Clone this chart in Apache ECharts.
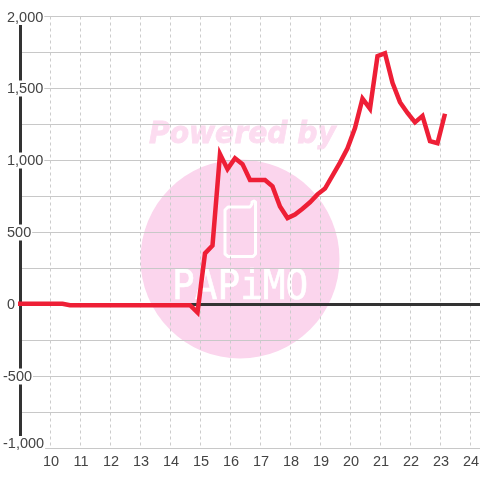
<!DOCTYPE html>
<html>
<head>
<meta charset="utf-8">
<style>html,body{margin:0;padding:0;background:#fff}#c{width:480px;height:480px}</style>
<script src="https://cdn.jsdelivr.net/npm/echarts@6/dist/echarts.min.js"></script>
</head>
<body>
<div id="c"></div>
<script>
var xValues = [8.9,9.15,9.4,9.65,9.9,10.15,10.4,10.65,10.9,11.15,11.4,11.65,11.9,12.15,12.4,12.65,12.9,13.15,13.4,13.65,13.9,14.15,14.4,14.65,14.9,15.15,15.4,15.65,15.9,16.15,16.4,16.65,16.9,17.15,17.4,17.65,17.9,18.15,18.4,18.65,18.9,19.15,19.4,19.65,19.9,20.15,20.4,20.65,20.9,21.15,21.4,21.65,21.9,22.15,22.4,22.65,22.9,23.15];
var yValues = [5,5,5,5,5,5,5,-5,-5,-5,-5,-5,-5,-5,-5,-5,-5,-5,-5,-5,-5,-5,-5,-5,-55,355,410,1045,940,1015,975,865,865,865,820,680,600,625,665,710,765,805,895,985,1085,1225,1430,1360,1725,1745,1540,1405,1330,1265,1310,1135,1120,1325];
var baselineX = [9, 24.317];
var baselineY = [0, 0];
var yMin = -1000, yMax = 2000, yStep = 250;
var xMin = 9, xMax = 24.317;
var poweredText = 'Powered by';
var brandText = 'PAPiMO';

var chart = echarts.init(document.getElementById('c'), null, {renderer:'canvas'});
function fmt(v){
  if (Math.abs(v) % 500 !== 0) return '';
  var s = v.toLocaleString('en-US');
  if (v === 2000) return '{top|' + s + '}';
  if (v === -1000) return '{bot|' + s + '}';
  if (v < 0) return '{neg|' + s + '}';
  return '{pos|' + s + '}';
}
var base = {fontFamily:'Liberation Sans', fontSize:14.5, color:'#444', backgroundColor:'#fff', lineHeight:12};
function st(p){ return Object.assign({}, base, {padding:p}); }
chart.setOption({
  animation:false,
  backgroundColor:'#fff',
  grid:{left:20.5, right:0, top:16.5, bottom:31.5, containLabel:false, outerBoundsMode:'none'},
  graphic:{elements:[
    {type:'circle', z:-10, silent:true, shape:{cx:240,cy:259,r:99.5}, style:{fill:'#fbd5ed'}},
    {type:'text', z:-9, silent:true, x:149, y:120, scaleX:0.94, style:{text:poweredText, font:'italic bold 30px "DejaVu Sans"', fill:'#fcdcf0', stroke:'#fcdcf0', lineWidth:0.8}},
    {type:'polygon', z:-9, silent:true, shape:{points:[[228,207],[250,207],[252,204],[252,202],[254,201],[255.5,202],[255.5,254],[253,256.5],[228,256.5],[225,254],[225,210]]}, style:{fill:'none', stroke:'#fff', lineWidth:3, lineJoin:'round'}},
    {type:'text', z:-9, silent:true, x:172, y:268, scaleX:0.92, style:{text:brandText, font:'41px "DejaVu Sans Mono"', fill:'#fff', stroke:'#fff', lineWidth:0.6}}
  ]},
  xAxis:{
    type:'value', min:xMin, max:xMax, interval:1, position:'bottom',
    axisLine:{show:false}, axisTick:{show:false},
    axisLabel:{show:true, margin:6, showMinLabel:false, showMaxLabel:false, hideOverlap:false,
      fontFamily:'Liberation Sans', fontSize:14.5, color:'#444', padding:[0,0,0,1]},
    splitLine:{show:true, lineStyle:{color:'#ccc', width:1, type:[3,3]}}
  },
  yAxis:{
    type:'value', min:yMin, max:yMax, interval:yStep,
    axisLine:{show:true, onZero:false, lineStyle:{color:'#333', width:3}},
    axisTick:{show:false},
    axisLabel:{show:true, margin:17.5, align:'left', hideOverlap:false, showMinLabel:true, showMaxLabel:true, formatter:fmt,
      rich:{pos:st([1,1,0,4]), neg:st([1,1,0,0]), top:st([2,1,0,4]), bot:st([0,1,10,0])}},
    splitLine:{show:true, lineStyle:{color:'#c8c8c8', width:1, type:'solid'}}
  },
  series:[{
    type:'line', z:1, showSymbol:false, silent:true,
    lineStyle:{color:'#333', width:3},
    data:baselineX.map(function(x,i){return [x,baselineY[i]];})
  },{
    type:'line', z:2, showSymbol:false, clip:false, smooth:false,
    lineStyle:{color:'#ee1f36', width:4.5, join:'miter', cap:'butt'},
    data:xValues.map(function(x,i){return [x,yValues[i]];})
  }]
});
</script>
</body>
</html>
